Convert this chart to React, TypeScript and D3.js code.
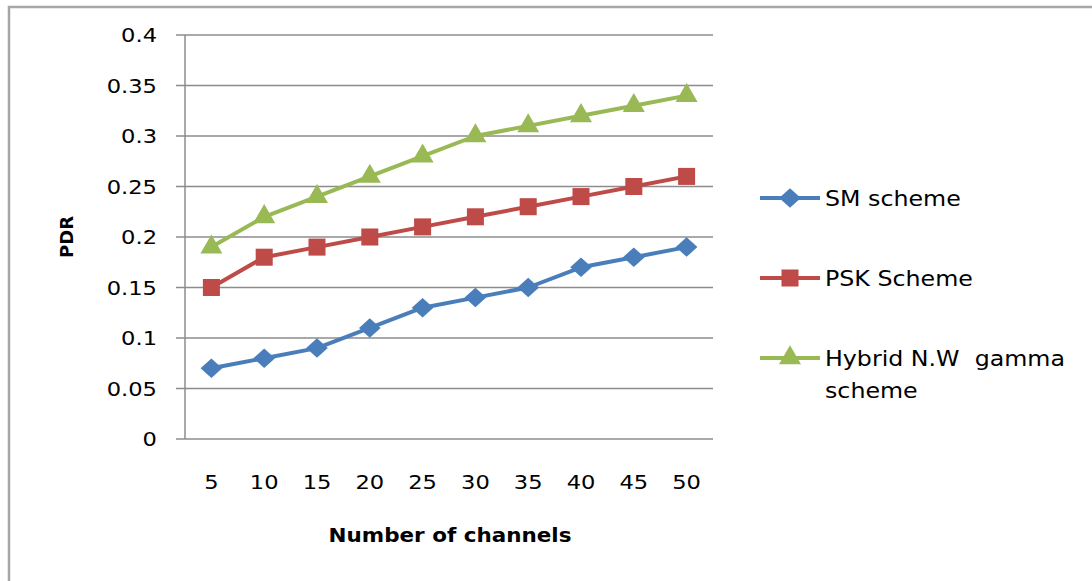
import * as React from 'react'
import * as d3 from 'd3'

const WIDTH = 1092
const HEIGHT = 581
const PLOT_LEFT = 185
const PLOT_RIGHT = 713
const PLOT_TOP = 35
const PLOT_BOTTOM = 439
const FONT = '"DejaVu Sans", Verdana, sans-serif'
const STRETCH = 1.13

const channels = ['5', '10', '15', '20', '25', '30', '35', '40', '45', '50']
const smScheme = [0.07, 0.08, 0.09, 0.11, 0.13, 0.14, 0.15, 0.17, 0.18, 0.19]
const pskScheme = [0.15, 0.18, 0.19, 0.2, 0.21, 0.22, 0.23, 0.24, 0.25, 0.26]
const hybridScheme = [0.19, 0.22, 0.24, 0.26, 0.28, 0.3, 0.31, 0.32, 0.33, 0.34]
const yTicks = [0, 0.05, 0.1, 0.15, 0.2, 0.25, 0.3, 0.35, 0.4]
const yTickLabels = ['0', '0.05', '0.1', '0.15', '0.2', '0.25', '0.3', '0.35', '0.4']

interface Series {
  name: string[]
  values: number[]
  color: string
  symbol: d3.SymbolType
  size: number
}

const diamond: d3.SymbolType = {
  draw(ctx, size) {
    const r = Math.sqrt(size) / 1.6
    ctx.moveTo(0, -r * 0.9)
    ctx.lineTo(r, 0)
    ctx.lineTo(0, r * 0.9)
    ctx.lineTo(-r, 0)
    ctx.closePath()
  }
}

const series: Series[] = [
  { name: ['SM scheme'], values: smScheme, color: '#4a7ebb', symbol: diamond, size: 300 },
  { name: ['PSK Scheme'], values: pskScheme, color: '#be4b48', symbol: d3.symbolSquare, size: 290 },
  { name: ['Hybrid N.W  gamma', 'scheme'], values: hybridScheme, color: '#98b954', symbol: d3.symbolTriangle, size: 210 }
]

const legendY = [198, 278, 358]

// text stretched sideways a little, the source picture is wider than tall
function WideText(props: {
  x: number
  y: number
  anchor?: 'start' | 'middle' | 'end'
  size: number
  bold?: boolean
  children: React.ReactNode
}) {
  return (
    <text
      transform={`translate(${props.x},${props.y}) scale(${STRETCH},1)`}
      dy="0.36em"
      textAnchor={props.anchor ?? 'start'}
      fontSize={props.size}
      fontWeight={props.bold ? 'bold' : 'normal'}
      fill="#000"
      style={{ whiteSpace: 'pre' }}
    >
      {props.children}
    </text>
  )
}

export default function App() {
  const x = d3.scaleBand().domain(channels).range([PLOT_LEFT, PLOT_RIGHT])
  const y = d3.scaleLinear().domain([0, 0.4]).range([PLOT_BOTTOM, PLOT_TOP])
  const cx = (c: string) => (x(c) ?? 0) + x.bandwidth() / 2
  const line = d3
    .line<number>()
    .x((d, i) => cx(channels[i]))
    .y(d => y(d))

  return (
    <svg
      width={WIDTH}
      height={HEIGHT}
      style={{ position: 'absolute', left: 0, top: 0, background: '#fff' }}
      fontFamily={FONT}
    >
      {/* outer frame, only top and left edges visible */}
      <path d={`M9,${HEIGHT} V7 H${WIDTH}`} fill="none" stroke="#a6a6a6" strokeWidth={2.5} />

      {/* gridlines */}
      {yTicks.map((t, i) => (
        <g key={t}>
          <line x1={PLOT_LEFT - 9} x2={PLOT_RIGHT} y1={y(t)} y2={y(t)} stroke="#8c8c8c" strokeWidth={1.5} />
          <WideText x={157} y={y(t)} anchor="end" size={20}>
            {yTickLabels[i]}
          </WideText>
        </g>
      ))}
      <line x1={PLOT_LEFT} x2={PLOT_LEFT} y1={PLOT_TOP} y2={PLOT_BOTTOM} stroke="#8c8c8c" strokeWidth={1.5} />

      {channels.map(c => (
        <WideText key={c} x={cx(c)} y={482} anchor="middle" size={20}>
          {c}
        </WideText>
      ))}

      <WideText x={450} y={535} anchor="middle" size={19} bold>
        Number of channels
      </WideText>
      <text
        transform={`translate(67,237) rotate(-90)`}
        dy="0.36em"
        textAnchor="middle"
        fontSize={18}
        fontWeight="bold"
        fill="#000"
      >
        PDR
      </text>

      {series.map(s => (
        <g key={s.name[0]}>
          <path d={line(s.values) ?? ''} fill="none" stroke={s.color} strokeWidth={4} strokeLinejoin="round" />
          {s.values.map((v, i) => (
            <path
              key={i}
              transform={`translate(${cx(channels[i])},${y(v)})`}
              d={d3.symbol(s.symbol, s.size)() ?? ''}
              fill={s.color}
            />
          ))}
        </g>
      ))}

      {/* legend */}
      {series.map((s, i) => (
        <g key={s.name[0]} transform={`translate(0,${legendY[i]})`}>
          <line x1={760} x2={820} y1={0} y2={0} stroke={s.color} strokeWidth={4} />
          <path transform="translate(790,0)" d={d3.symbol(s.symbol, s.size)() ?? ''} fill={s.color} />
          {s.name.map((n, j) => (
            <WideText key={n} x={825} y={j * 32} size={21}>
              {n}
            </WideText>
          ))}
        </g>
      ))}
    </svg>
  )
}
